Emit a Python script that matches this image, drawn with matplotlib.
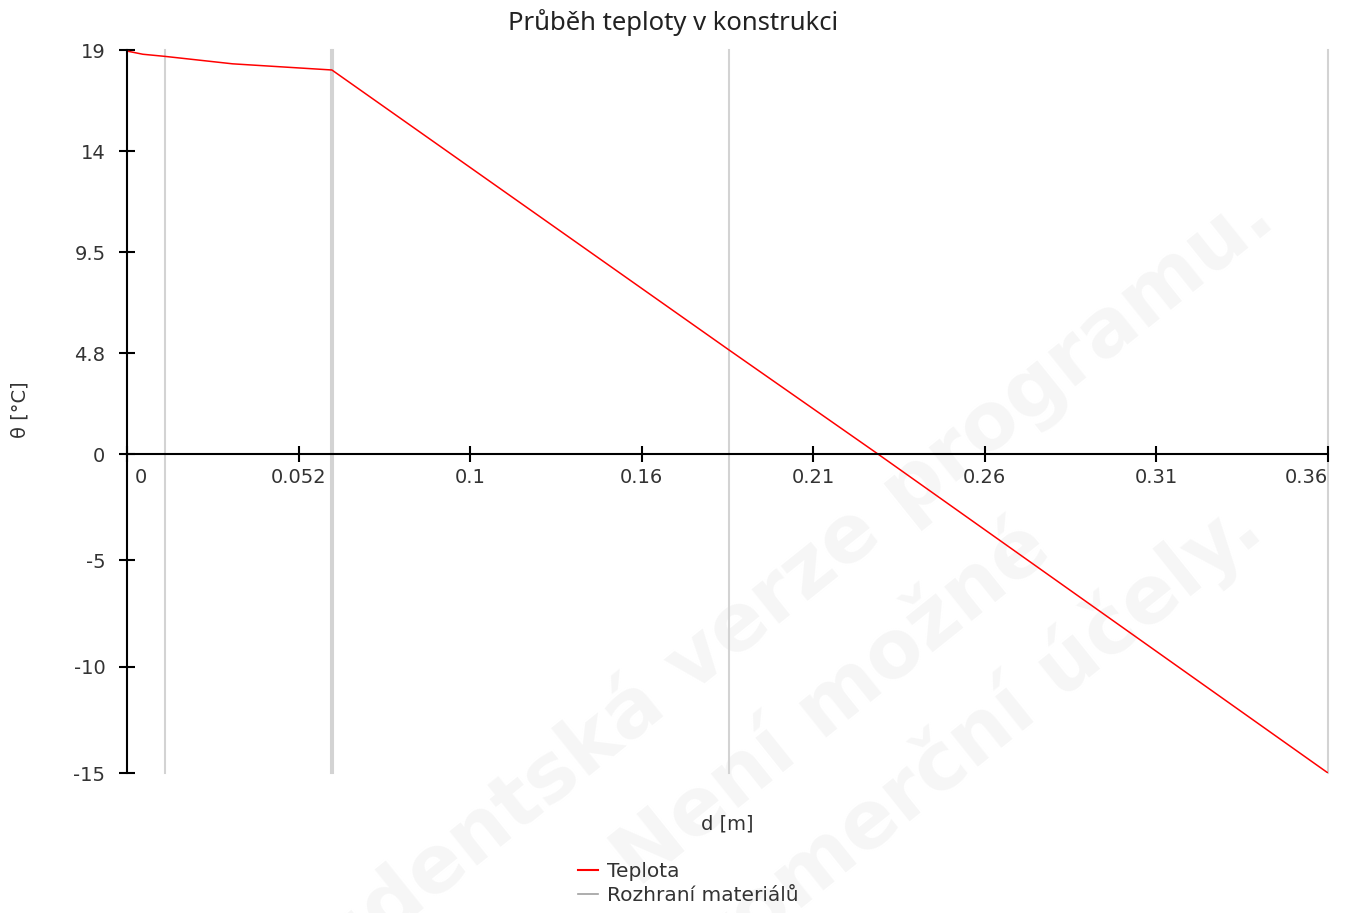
import matplotlib
matplotlib.use('Agg')
import matplotlib.pyplot as plt
import matplotlib.transforms as mtransforms
from matplotlib.lines import Line2D

# data
depth = [0.0, 0.0048, 0.0115, 0.032, 0.0621, 0.1824, 0.2276, 0.364]
temp = [18.95, 18.8, 18.7, 18.35, 18.06, 4.9, 0.0, -15.0]
interfaces = [0.0115, 0.0618, 0.0624, 0.1824, 0.364]

x_ticks = [0.0, 0.052, 0.104, 0.156, 0.208, 0.26, 0.312, 0.364]
x_labels = ['0', '0.052', '0.1', '0.16', '0.21', '0.26', '0.31', '0.36']
y_ticks = [19, 14.25, 9.5, 4.75, 0, -5, -10, -15]
y_labels = ['19', '14', '9.5', '4.8', '0', '-5', '-10', '-15']

wm_lines = ['Studentská verze programu.', 'Není možné', 'pro komerční účely.']

W, H = 1346, 913
plt.rcParams['font.family'] = 'DejaVu Sans'
fig = plt.figure(figsize=(W / 100, H / 100), dpi=100, facecolor='white')

# faint watermark behind everything
wm_pos = [(772, 630), (846, 722), (919, 814)]
for (px, py), txt in zip(wm_pos, wm_lines):
    fig.text(px / W, 1 - py / H, txt, rotation=38.7, rotation_mode='anchor',
             ha='center', va='baseline', fontsize=58, fontweight='bold',
             color='#f6f6f6', zorder=-5)

ax = fig.add_axes([127 / W, 1 - 773 / H, (1328 - 127) / W, (773 - 50) / H])
ax.set_facecolor('none')

for xi in interfaces:
    ax.axvline(xi, color='#d3d3d3', linewidth=1.5, clip_on=False, zorder=1)
ax.plot(depth, temp, color='red', linewidth=1.1, zorder=3)

ax.set_xlim(0, 0.364)
ax.set_ylim(-15, 19)

ax.spines['top'].set_visible(False)
ax.spines['right'].set_visible(False)
ax.spines['bottom'].set_position(('data', 0))
for s in ['left', 'bottom']:
    ax.spines[s].set_linewidth(1.5)
    ax.spines[s].set_color('black')
    ax.spines[s].set_zorder(4)

ax.set_xticks(x_ticks)
ax.set_xticklabels(x_labels)
ax.set_yticks(y_ticks)
ax.set_yticklabels(y_labels)
ax.tick_params(axis='both', direction='inout', length=11, width=1.5,
               colors='black', labelcolor='#333333', labelsize=14)
ax.tick_params(axis='x', pad=4.5)
ax.tick_params(axis='y', pad=10)

xl = ax.get_xticklabels()
xl[0].set_horizontalalignment('left')
xl[0].set_transform(xl[0].get_transform() +
                    mtransforms.ScaledTranslation(8 / 100, 0, fig.dpi_scale_trans))
xl[-1].set_horizontalalignment('right')

ax.set_xlabel('d [m]', fontsize=14, color='#333333')
ax.xaxis.set_label_coords(0.5, -0.058)
fig.text(20 / W, 1 - 410 / H, 'θ [°C]', rotation=90, ha='center', va='center',
         fontsize=14, color='#333333')

fig.text(673 / W, 1 - 23 / H, 'Průběh teploty v konstrukci', ha='center', va='center',
         fontsize=18.5, family='Noto Sans', color='#222222')

handles = [Line2D([], [], color='red', linewidth=1.5),
           Line2D([], [], color='#a0a0a0', linewidth=1.2)]
fig.legend(handles, ['Teplota', 'Rozhraní materiálů'], loc='upper left',
           bbox_to_anchor=(578 / W, 1 - 862 / H), frameon=False, fontsize=14.5,
           handlelength=1.0, handletextpad=0.45, labelspacing=0.25, borderpad=0,
           borderaxespad=0, labelcolor='#333333')

fig.savefig('out.png', dpi=100, facecolor='white')
